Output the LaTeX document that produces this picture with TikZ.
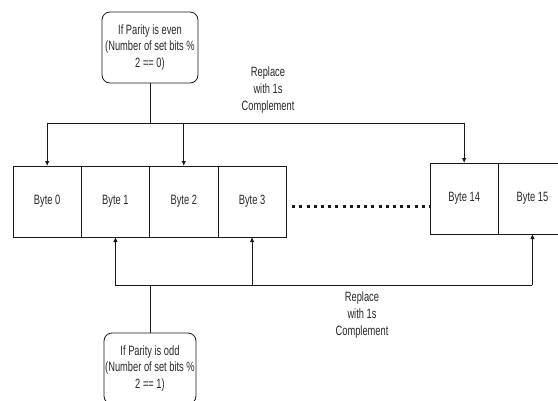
\documentclass[tikz,border=0pt]{standalone}
\usepackage{fontspec}
\setmainfont{Liberation Sans}[FakeStretch=0.69]
\usetikzlibrary{arrows.meta,positioning,calc}
\definecolor{linegrey}{RGB}{25,25,25}
\definecolor{textgrey}{RGB}{40,40,40}

\begin{document}
\begin{tikzpicture}[x=1pt,y=-1pt,font=\fontsize{13.5}{16.8}\selectfont,text=textgrey,
  cell/.style={draw=linegrey,line width=0.8pt,minimum width=68.3pt,minimum height=71pt,
               inner sep=0pt,outer sep=0pt},
  cond/.style={draw=linegrey,line width=0.8pt,rounded corners=8pt,minimum height=71pt,
               align=center,inner sep=1pt},
  wire/.style={draw=linegrey,line width=0.8pt},
  arr/.style={wire,-{Latex[length=5pt,width=4.5pt]}},
  dots/.style={linegrey,line width=3pt,dash pattern=on 3pt off 4.2pt},
  note/.style={align=center}]
  \useasboundingbox (0,0) rectangle (558,400);
  % byte cells
  \node[cell,anchor=north west] (b0) at (13,166) {Byte 0};
  \foreach \i [count=\j from 0] in {1,2,3}
    \node[cell,right=0pt of b\j] (b\i) {Byte \i};
  \node[cell,anchor=north west] (b14) at (430,163) {Byte 14};
  \node[cell,right=0pt of b14] (b15) {Byte 15};
  \draw[dots] ([xshift=6pt,yshift=-5pt]b3.east) -- ([yshift=-5pt]b3.east -| b14.west);
  % parity conditions
  \node[cond,minimum width=96pt] (even) at (150,47.5)
    {If Parity is even\\(Number of set bits \%\\2 == 0)};
  \node[cond,minimum width=92pt] (odd) at (150,368.5)
    {If Parity is odd\\(Number of set bits \%\\2 == 1)};
  \coordinate (topbus) at (150,123);
  \coordinate (botbus) at (150,285);
  \draw[wire] (even) -- (topbus);
  \draw[wire] (b0.north |- topbus) -- (b14.north |- topbus);
  \foreach \b in {b0,b2,b14}
    \draw[arr] (\b.north |- topbus) -- (\b.north);
  \draw[wire] (odd) -- (botbus);
  \draw[wire] (b1.south |- botbus) -- (b15.south |- botbus);
  \foreach \b in {b1,b3,b15}
    \draw[arr] (\b.south |- botbus) -- (\b.south);
  \node[note] (reptop) at (268,90) {Replace\\with 1s\\Complement};
  \node[note] (repbot) at (362,315) {Replace\\with 1s\\Complement};
\end{tikzpicture}
\end{document}
